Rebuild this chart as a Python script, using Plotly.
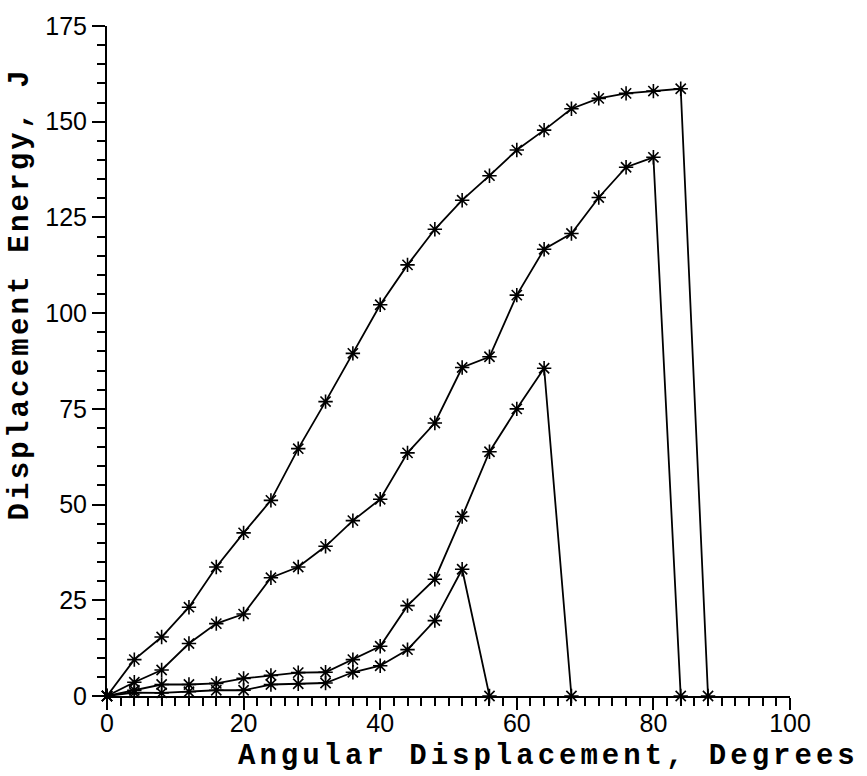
import plotly.graph_objects as go

# Angular displacement (degrees) for each curve
x1 = [0, 4, 8, 12, 16, 20, 24, 28, 32, 36, 40, 44, 48, 52, 56, 60, 64, 68, 72, 76, 80, 84, 88]
y1 = [0, 9.5, 15.4, 23.2, 33.7, 42.6, 51.1, 64.6, 76.9, 89.5, 102.2, 112.6, 121.9, 129.5,
      135.9, 142.6, 147.8, 153.4, 156.1, 157.4, 158.0, 158.6, 0]

x2 = [0, 4, 8, 12, 16, 20, 24, 28, 32, 36, 40, 44, 48, 52, 56, 60, 64, 68, 72, 76, 80, 84]
y2 = [0, 3.6, 6.8, 13.7, 18.9, 21.4, 30.9, 33.7, 39.1, 45.8, 51.4, 63.5, 71.3, 85.8,
      88.6, 104.7, 116.7, 120.8, 130.2, 138.1, 140.7, 0]

x3 = [0, 4, 8, 12, 16, 20, 24, 28, 32, 36, 40, 44, 48, 52, 56, 60, 64, 68]
y3 = [0, 1.5, 3.0, 3.0, 3.3, 4.6, 5.4, 6.1, 6.2, 9.5, 13.0, 23.6, 30.5, 46.9, 63.8, 75.0, 85.6, 0]

x4 = [0, 4, 8, 12, 16, 20, 24, 28, 32, 36, 40, 44, 48, 52, 56]
y4 = [0, 0.9, 0.8, 1.1, 1.5, 1.5, 3.0, 3.2, 3.4, 6.2, 7.9, 12.1, 19.7, 33.1, 0]

x_ticks = [0, 20, 40, 60, 80, 100]
y_ticks = [0, 25, 50, 75, 100, 125, 150, 175]

x_title = "Angular Displacement, Degrees"
y_title = "Displacement Energy, J"

fig = go.Figure()
for xs, ys in [(x1, y1), (x2, y2), (x3, y3), (x4, y4)]:
    fig.add_trace(go.Scatter(
        x=xs, y=ys, mode="lines+markers",
        line=dict(color="black", width=1.8),
        marker=dict(symbol="asterisk-open", size=12, color="black",
                    line=dict(color="black", width=1.6)),
        cliponaxis=False, showlegend=False,
    ))

tickfont = dict(family="Liberation Sans, Arial, sans-serif", size=25, color="black")
titlefont = dict(family="Liberation Mono, Courier New, monospace", size=29,
                 color="black", weight="bold")

fig.update_xaxes(
    range=[0, 100], tickvals=x_ticks,
    showline=True, linecolor="black", linewidth=2,
    ticks="outside", ticklen=12, tickwidth=2, tickcolor="black",
    minor=dict(dtick=2, ticks="outside", ticklen=8, tickwidth=1.5, tickcolor="black"),
    showgrid=False, zeroline=False, tickfont=tickfont, ticklabelstandoff=-8,
)
fig.update_yaxes(
    range=[0, 175], tickvals=y_ticks,
    showline=True, linecolor="black", linewidth=2,
    ticks="outside", ticklen=13, tickwidth=2, tickcolor="black",
    minor=dict(dtick=5, ticks="outside", ticklen=8, tickwidth=1.5, tickcolor="black"),
    showgrid=False, zeroline=False, tickfont=tickfont,
)

fig.add_annotation(text=x_title, xref="paper", yref="paper", x=0.647, y=-0.091,
                   xanchor="center", yanchor="middle", showarrow=False, font=titlefont)
fig.add_annotation(text=y_title, xref="paper", yref="paper", x=-0.1274, y=0.601,
                   xanchor="center", yanchor="middle", showarrow=False, textangle=-90,
                   font=titlefont)

fig.update_layout(
    width=867, height=776,
    margin=dict(l=107, r=77, t=21, b=80),
    paper_bgcolor="white", plot_bgcolor="white",
)

post = """
var gd = document.getElementById('{plot_id}');
function ls(){
  var a = gd.querySelectorAll('.annotation-text');
  a.forEach(function(e, i){ e.style.letterSpacing = (i === 0 ? '4px' : '3.2px'); });
}
ls(); setTimeout(ls, 0); setTimeout(ls, 200);
if (gd.on) { gd.on('plotly_afterplot', ls); }
"""

fig.write_html("out.html", post_script=post)
